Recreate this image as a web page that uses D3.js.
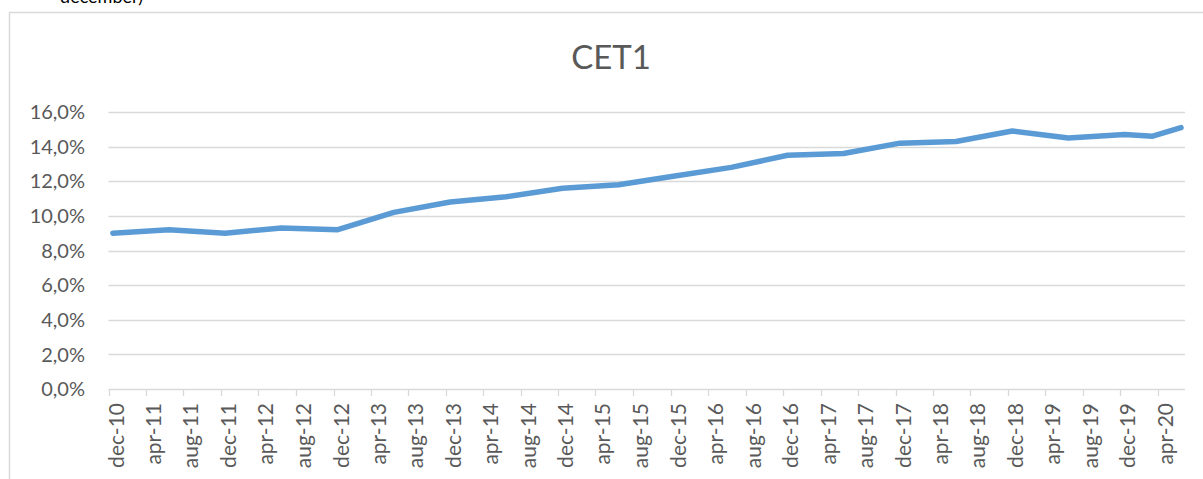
<!DOCTYPE html>
<meta charset="utf-8">
<style>
  body { margin: 0; background: #fff; }
  svg { font-family: Lato, "Open Sans", sans-serif; }
  .grid line { stroke: #d9d9d9; stroke-width: 1.3; }
  .ylab text { fill: #595959; font-size: 20px; }
  .xlab text { fill: #595959; font-size: 21px; }
</style>
<svg width="1203" height="479"></svg>
<script src="https://d3js.org/d3.v7.min.js"></script>
<script>

// observation dates (semi-annual, last two quarterly) and CET1 ratio in %
var dates = ["2010-12-15", "2011-06-15", "2011-12-15", "2012-06-15", "2012-12-15",
             "2013-06-15", "2013-12-15", "2014-06-15", "2014-12-15", "2015-06-15",
             "2015-12-15", "2016-06-15", "2016-12-15", "2017-06-15", "2017-12-15",
             "2018-06-15", "2018-12-15", "2019-06-15", "2019-12-15", "2020-03-15",
             "2020-06-15"];
var cet1 = [9.0, 9.2, 9.0, 9.3, 9.2,
            10.2, 10.8, 11.1, 11.6, 11.8,
            12.3, 12.8, 13.5, 13.6, 14.2,
            14.3, 14.9, 14.5, 14.7, 14.6,
            15.1];
var yTicks = [0, 2, 4, 6, 8, 10, 12, 14, 16];
var monthNames = ["jan", "feb", "mrt", "apr", "mei", "jun", "jul", "aug", "sep", "okt", "nov", "dec"];

var svg = d3.select("svg");
var parse = d3.timeParse("%Y-%m-%d");

var data = dates.map(function(d, i) { return { date: parse(d), value: cet1[i] }; });

var x = d3.scaleTime()
    .domain([new Date(2010, 11, 1), new Date(2020, 5, 28)])
    .range([108.5, 1185]);

var y = d3.scaleLinear()
    .domain([0, 16])
    .range([389, 112]);

// chart frame
svg.append("rect")
    .attr("x", 9.5).attr("y", 12.5)
    .attr("width", 1300).attr("height", 600)
    .attr("fill", "none")
    .attr("stroke", "#d9d9d9")
    .attr("stroke-width", 1.5);

// caption above the frame, cut off by the crop
svg.append("text")
    .attr("x", 143).attr("y", 3)
    .attr("text-anchor", "end")
    .attr("font-size", 18)
    .attr("fill", "#000")
    .text("december)");

svg.append("text")
    .attr("x", 611).attr("y", 69)
    .attr("text-anchor", "middle")
    .attr("font-size", 33)
    .attr("fill", "#595959")
    .text("CET1");

// gridlines
svg.append("g").attr("class", "grid")
  .selectAll("line")
  .data(yTicks)
  .enter().append("line")
    .attr("x1", x.range()[0]).attr("x2", x.range()[1])
    .attr("y1", function(d) { return Math.round(y(d)) + 0.5; })
    .attr("y2", function(d) { return Math.round(y(d)) + 0.5; });

svg.append("g").attr("class", "ylab")
  .selectAll("text")
  .data(yTicks)
  .enter().append("text")
    .attr("x", 85)
    .attr("y", function(d) { return y(d); })
    .attr("dy", "0.36em")
    .attr("text-anchor", "end")
    .text(function(d) { return d.toFixed(1).replace(".", ",") + "%"; });

// x ticks every 4 months, starting at december 2010
var xTicks = d3.timeMonth.range(new Date(2010, 11, 1), new Date(2020, 5, 2), 4);

svg.append("g").attr("class", "grid")
  .selectAll("line")
  .data(xTicks)
  .enter().append("line")
    .attr("x1", function(d) { return Math.round(x(d)) + 0.5; })
    .attr("x2", function(d) { return Math.round(x(d)) + 0.5; })
    .attr("y1", 389).attr("y2", 396);

svg.append("g").attr("class", "xlab")
  .selectAll("text")
  .data(xTicks)
  .enter().append("text")
    .attr("transform", function(d) { return "translate(" + (x(d) + 15) + ",403) rotate(-90)"; })
    .attr("text-anchor", "end")
    .text(function(d) {
      return monthNames[d.getMonth()] + "-" + String(d.getFullYear()).slice(2);
    });

var line = d3.line()
    .x(function(d) { return x(d.date); })
    .y(function(d) { return y(d.value); });

svg.append("path")
    .datum(data)
    .attr("d", line)
    .attr("fill", "none")
    .attr("stroke", "#5b9bd5")
    .attr("stroke-width", 5.5)
    .attr("stroke-linejoin", "round")
    .attr("stroke-linecap", "round");

</script>
